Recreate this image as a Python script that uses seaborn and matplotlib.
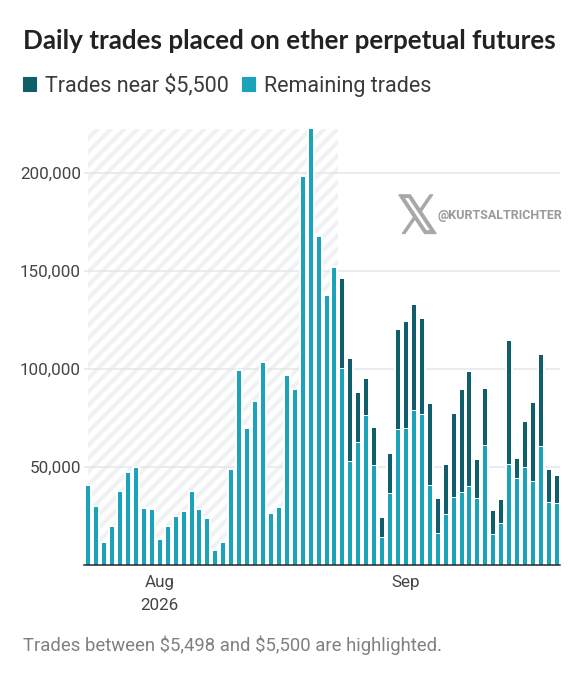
import matplotlib
matplotlib.use("Agg")
import matplotlib.pyplot as plt
import matplotlib.patheffects as pe
from matplotlib.patches import Patch
import pandas as pd
import seaborn as sns

days = pd.date_range("2026-07-23", periods=60).strftime("%Y-%m-%d").tolist()
remaining_trades = [40.0, 29.3, 10.9, 19.4, 37.1, 46.6, 49.5, 28.4, 27.7, 12.6,
                    19.2, 24.5, 26.9, 37.1, 27.7, 23.1, 7.0, 10.9, 48.1, 99.0,
                    69.2, 82.8, 102.7, 25.9, 28.7, 96.4, 89.1, 197.8, 222.0, 167.3,
                    136.9, 151.4, 99.8, 52.6, 62.1, 75.9, 50.2, 13.8, 35.9, 68.9,
                    69.2, 78.2, 76.4, 40.0, 15.8, 25.3, 34.2, 36.7, 39.8, 33.5,
                    60.5, 15.3, 20.9, 51.0, 43.7, 49.5, 42.0, 60.0, 31.5, 31.1]
trades_total = [40.0, 29.3, 10.9, 19.4, 37.1, 46.6, 49.5, 28.4, 27.7, 12.6,
                19.2, 24.5, 26.9, 37.1, 27.7, 23.1, 7.0, 10.9, 48.1, 99.0,
                69.2, 82.8, 102.7, 25.9, 28.7, 96.4, 89.1, 197.8, 222.0, 167.3,
                136.9, 151.4, 145.9, 104.8, 87.8, 94.9, 69.7, 24.0, 56.6, 119.7,
                123.6, 132.3, 125.3, 82.0, 33.7, 50.7, 76.7, 89.1, 98.3, 53.4,
                89.8, 27.2, 32.8, 114.3, 53.9, 72.8, 82.3, 107.0, 48.5, 45.4]
y_ticks = [50, 100, 150, 200]
y_labels = ["50,000", "100,000", "150,000", "200,000"]
x_tick_pos = [9, 40]
x_labels = ["Aug\n2026", "Sep"]
legend_labels = ["Trades near \\$5,500", "Remaining trades"]
title = "Daily trades placed on ether perpetual futures"
footer = "Trades between \\$5,498 and \\$5,500 are highlighted."
watermark = "@KURTSALTRICHTER"

DARK = "#115e6b"
TEAL = "#1aa3b9"
W, H = 584, 680
DPI = 80
px = 72 / DPI

sns.set_theme(style="white")
plt.rcParams["font.family"] = ["Roboto", "DejaVu Sans"]
plt.rcParams["hatch.linewidth"] = 3.6
plt.rcParams["hatch.color"] = "#f0f1f2"

df = pd.DataFrame({"day": days, "remaining": remaining_trades, "total": trades_total})

fig = plt.figure(figsize=(W / DPI, H / DPI), dpi=DPI)
ax = fig.add_axes([84 / W, 1 - 564.7 / H, (560 - 84) / W, (564.7 - 129.4) / H])

ax.axvspan(-0.04, 31.45, facecolor="white", edgecolor="#f0f1f2", hatch="//", linewidth=0, zorder=0)
ax.grid(axis="y", color="#e4e6e9", linewidth=1.5 * px, zorder=0.5)
ax.set_axisbelow(True)

common = dict(data=df, x="day", ax=ax, saturation=1, width=0.5, zorder=2)
sns.barplot(y="total", color="white", edgecolor="white", linewidth=4 * px, **common)
sns.barplot(y="total", color=DARK, linewidth=0, **common)
sns.barplot(y="remaining", color="white", edgecolor="white", linewidth=2 * px, **common)
sns.barplot(y="remaining", color=TEAL, linewidth=0, **common)

ax.set_xlim(-0.54, 59.4)
ax.set_ylim(0, 222)
ax.set_xlabel("")
ax.set_ylabel("")
ax.set_yticks(y_ticks, y_labels)
ax.set_xticks(x_tick_pos, x_labels)
ax.tick_params(axis="y", length=0, pad=3 * px, labelsize=17 * px, labelcolor="#444444")
ax.tick_params(axis="x", length=0, pad=10 * px, labelsize=17 * px, labelcolor="#444444")
for lab in ax.get_xticklabels():
    lab.set_linespacing(1.65)
for s in ["top", "left", "right"]:
    ax.spines[s].set_visible(False)
ax.spines["bottom"].set_color("#222222")
ax.spines["bottom"].set_linewidth(1.5 * px)
ax.spines["bottom"].set_zorder(5)

fig.text(23 / W, 1 - 41 / H, title, family="Lato", fontsize=26 * px, fontweight="bold", color="#222222", va="center", ha="left")
handles = [Patch(color=DARK, label=legend_labels[0]), Patch(color=TEAL, label=legend_labels[1])]
fig.legend(handles=handles, loc="center left", bbox_to_anchor=(23 / W, 1 - 86 / H), borderaxespad=0, borderpad=0,
           frameon=False, ncol=2, fontsize=21.5 * px, labelcolor="#3a3a3a", handlelength=0.62, handleheight=0.62,
           handletextpad=0.42, columnspacing=0.58)
fig.text(23 / W, 1 - 645 / H, footer, fontsize=18.5 * px, color="#808080", va="center", ha="left")

fig.text(417.5 / W, 1 - 218.5 / H, "\U0001D54F", family="DejaVu Sans", fontsize=53 * px, color="#a8a8a8", va="center", ha="center", zorder=6,
         path_effects=[pe.withStroke(linewidth=1.2, foreground="#a8a8a8")])
fig.text(437 / W, 1 - 215 / H, watermark, family="Roboto", fontweight="bold", fontsize=12.5 * px, color="#9a9a9a", va="center", ha="left", zorder=6)

fig.savefig("out.png", dpi=DPI)
